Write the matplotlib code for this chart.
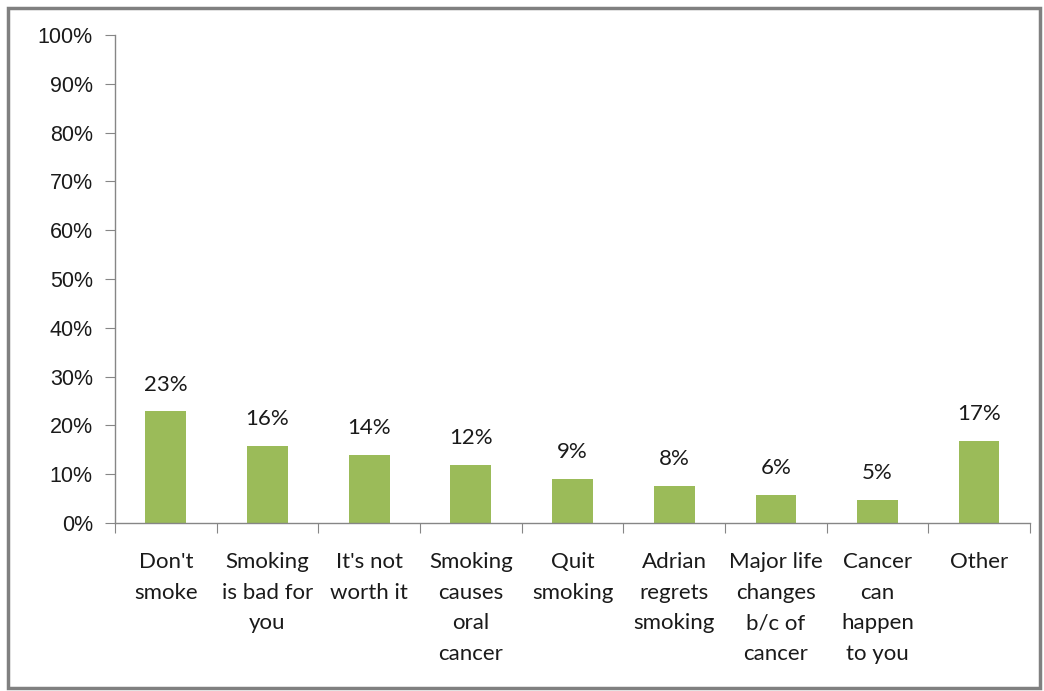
import matplotlib
matplotlib.use("Agg")
import matplotlib.pyplot as plt
from matplotlib.patches import Rectangle
from matplotlib.ticker import MultipleLocator, FuncFormatter
import numpy as np

categories = ["Don't\nsmoke", "Smoking\nis bad for\nyou", "It's not\nworth it",
              "Smoking\ncauses\noral\ncancer", "Quit\nsmoking", "Adrian\nregrets\nsmoking",
              "Major life\nchanges\nb/c of\ncancer", "Cancer\ncan\nhappen\nto you", "Other"]
values = [22.9, 15.8, 14.0, 11.9, 9.0, 7.6, 5.8, 4.7, 16.8]

grey = "#868686"
green = "#9BBB59"

fig = plt.figure(figsize=(10.44, 6.91), dpi=100)
fig.patches.append(Rectangle((0.008, 0.005), 0.988, 0.983, transform=fig.transFigure,
                             fill=False, edgecolor="#808080", linewidth=2.5))

ax = fig.add_axes([115 / 1044, 1 - 523 / 691, (1030 - 115) / 1044, (523 - 35) / 691])
x = np.arange(len(categories))
ax.bar(x, values, width=0.4, color=green, zorder=2)

for xi, v in zip(x, values):
    ax.annotate(f"{v:.0f}%", (xi, v), xytext=(0, 12), textcoords="offset points",
                ha="center", va="bottom", fontsize=16, family="Lato", color="#1a1a1a")

ax.set_xlim(-0.5, len(categories) - 0.5)
ax.set_ylim(0, 100)
ax.yaxis.set_major_locator(MultipleLocator(10))
ax.yaxis.set_major_formatter(FuncFormatter(lambda v, p: f"{v:.0f}%"))
for lab in ax.get_yticklabels():
    lab.set_family("Liberation Sans")
ax.tick_params(axis="y", labelsize=15.5, length=7, color=grey, direction="out", pad=9,
               labelcolor="#1a1a1a")

ax.set_xticks(np.arange(-0.5, len(categories)))
ax.set_xticklabels([])
ax.tick_params(axis="x", length=7, color=grey, direction="out")
for xi, lab in zip(x, categories):
    ax.text(xi, -6.0, lab, ha="center", va="top", fontsize=16, family="Lato",
            linespacing=1.66, color="#1a1a1a")

for side in ["top", "right"]:
    ax.spines[side].set_visible(False)
for side in ["left", "bottom"]:
    ax.spines[side].set_color(grey)
    ax.spines[side].set_linewidth(1)

fig.savefig("out.png", dpi=100)
